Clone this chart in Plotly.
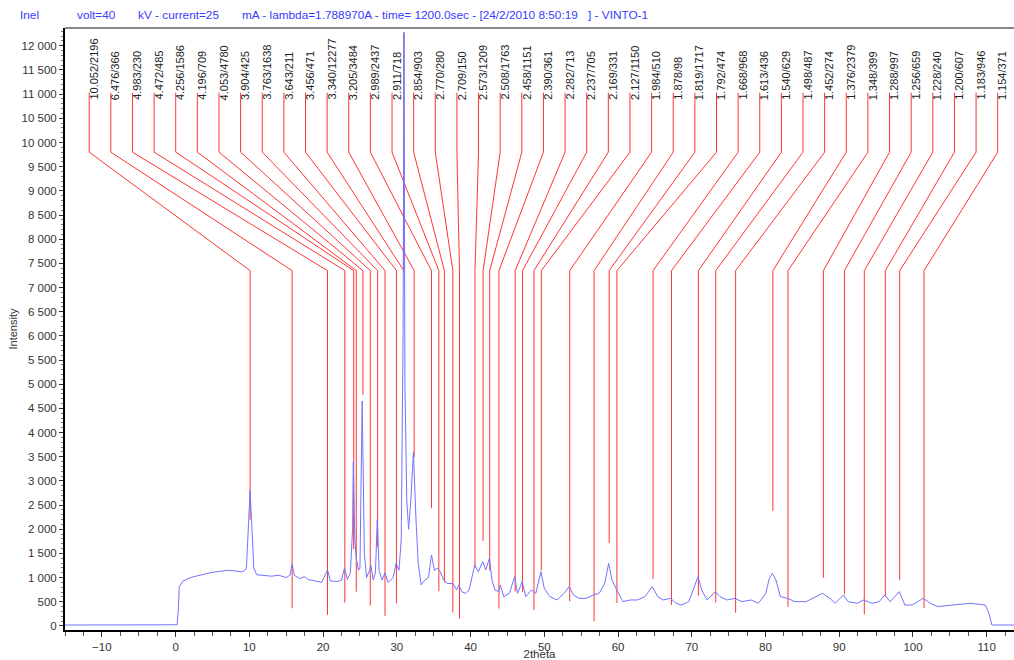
import numpy as np
import plotly.graph_objects as go

# diffractogram: 2theta (deg) and counts
two_theta = [-15, 0.2, 0.35, 0.5, 1.0, 2.0, 3.0, 4.0, 5.0, 6.0, 7.0, 8.0, 9.0, 9.6, 9.9, 10.1,
             10.3, 10.6, 11.0, 12.0, 13.0, 14.0, 15.0, 15.5, 15.8, 16.1, 16.8, 17.5, 18.0, 19.0,
             19.8, 20.6, 21.0, 22.0, 22.5, 22.9, 23.3, 23.7, 24.0, 24.1, 24.3, 24.5, 24.8, 25.0,
             25.3, 25.6, 25.9, 26.3, 26.5, 26.8, 27.1, 27.35, 27.6, 28.0, 28.4, 28.8, 29.5, 29.9,
             30.3, 30.6, 30.85, 30.97, 31.1, 31.35, 31.6, 31.9, 32.25, 32.6, 32.9, 33.3, 33.8,
             34.3, 34.7, 35.1, 35.5, 35.9, 36.35, 36.84, 37.6, 38.1, 38.4, 38.8, 39.3, 39.8,
             40.57, 41.05, 41.65, 42.06, 42.55, 42.9, 43.3, 43.8, 44.04, 44.5, 45.27, 45.98,
             46.37, 47.0, 47.5, 48.25, 48.85, 49.55, 50.0, 50.74, 51.73, 52.7, 53.37, 53.97,
             54.71, 55.7, 56.65, 57.44, 58.19, 58.73, 59.17, 59.83, 60.67, 61.66, 62.66, 63.65,
             64.64, 65.39, 66.13, 67.12, 67.87, 68.61, 69.6, 70.35, 70.85, 71.34, 72.09, 73.19,
             73.83, 74.81, 75.86, 76.8, 78.04, 79.04, 80.03, 80.52, 80.93, 81.42, 82.02, 82.97,
             84.0, 85.49, 86.48, 87.73, 88.72, 89.46, 90.56, 91.2, 92.44, 93.29, 94.45, 95.42,
             96.16, 96.91, 98.15, 98.9, 99.89, 101.38, 102.37, 103.36, 105.35, 107.83, 109.8,
             110.3, 110.7, 114]
intensity = [20, 25, 300, 820, 930, 1000, 1040, 1080, 1110, 1130, 1150, 1140, 1120, 1180, 2000, 2800,
             2200, 1200, 1060, 1040, 1030, 1050, 1000, 1050, 1280, 1050, 980, 1020, 960, 930,
             900, 1160, 930, 920, 950, 1200, 960, 1100, 2000, 3400, 1800, 1400, 1150, 1200,
             4650, 1500, 1000, 1150, 1250, 950, 1100, 2200, 1150, 950, 1100, 900, 1000, 1300,
             1150, 1800, 6000, 12277, 5000, 2600, 2000, 2600, 3600, 2200, 1300, 850, 950,
             1000, 1470, 1150, 1200, 1120, 950, 880, 880, 745, 850, 710, 676, 745,
             1262, 1123, 1330, 1158, 1400, 950, 745, 710, 848, 607, 676, 1020,
             676, 915, 607, 745, 676, 1123, 780, 607, 538, 676, 814, 641,
             572, 572, 641, 676, 880, 1296, 950, 745, 503, 538, 538, 607,
             814, 607, 538, 572, 469, 434, 503, 814, 1020, 745, 538, 710,
             607, 538, 572, 503, 538, 469, 676, 985, 1089, 950, 607, 572,
             503, 503, 572, 676, 572, 469, 641, 503, 469, 538, 469, 503,
             641, 503, 710, 434, 434, 572, 469, 400, 434, 469, 434,
             262, 20, 20]

# peak list: d-spacing / intensity labels and 2theta of each stick
peak_d = ['10.052', '6.476', '4.983', '4.472', '4.256', '4.196', '4.053', '3.904', '3.763',
          '3.643', '3.456', '3.340', '3.205', '2.989', '2.911', '2.854', '2.770', '2.709',
          '2.573', '2.508', '2.458', '2.390', '2.282', '2.237', '2.169', '2.127', '1.984',
          '1.878', '1.819', '1.792', '1.668', '1.613', '1.540', '1.498', '1.452', '1.376',
          '1.348', '1.288', '1.256', '1.228', '1.200', '1.183', '1.154']
peak_i = [2196, 366, 230, 485, 1586, 709, 4780, 425, 1638, 211, 471, 12277, 3484, 2437, 718,
          903, 280, 150, 1209, 1763, 1151, 361, 713, 705, 331, 1150, 510, 98, 1717, 474, 968,
          436, 629, 487, 274, 2379, 399, 997, 659, 240, 607, 946, 371]
peak_2theta = [10.1, 15.8, 20.6, 22.95, 24.15, 24.5, 25.4, 26.4, 27.4, 28.4, 29.95, 30.95,
               32.35, 34.7, 35.7, 36.45, 37.6, 38.5, 40.6, 41.7, 42.6, 43.85, 46.05, 47.05,
               48.6, 49.6, 53.45, 56.75, 58.8, 59.85, 64.75, 67.25, 70.9, 73.25, 75.95, 81.0,
               83.05, 87.85, 90.7, 93.4, 96.25, 98.2, 101.5]

FONT = "Liberation Sans, Arial, sans-serif"

fig = go.Figure()

# label slots spread evenly along the top
slots = np.linspace(-11.72, 111.49, len(peak_d))
lx, ly = [], []
for s, p, i in zip(slots, peak_2theta, peak_i):
    lx += [s, s, p, p, None]
    ly += [11030, 9800, 7350, i, None]

fig.add_trace(go.Scatter(x=lx, y=ly, mode='lines', line=dict(color='rgba(255,0,0,0.8)', width=1),
                         hoverinfo='skip', showlegend=False))
fig.add_trace(go.Scatter(x=two_theta, y=intensity, mode='lines',
                         line=dict(color='rgb(115,115,255)', width=1), showlegend=False))

for s, d, i in zip(slots, peak_d, peak_i):
    fig.add_annotation(x=s, y=10860, text=f"{d}/{i}", textangle=-90, showarrow=False,
                       xanchor='center', yanchor='bottom', xshift=5,
                       font=dict(family=FONT, size=11, color='#222'), borderpad=0)

# header line
header = [(18, 'Inel'), (75, 'volt=40'), (136, 'kV - current=25'),
          (240, 'mA - lambda=1.788970A - time= 1200.0sec - [24/2/2010 8:50:19'),
          (586, '] - VINTO-1')]
for px, t in header:
    fig.add_annotation(x=(px - 65) / 949, y=1, xref='paper', yref='paper', yshift=13,
                       text=t, showarrow=False, xanchor='left', yanchor='middle',
                       font=dict(family=FONT, size=11.8, color='#3a3aff'))

fig.add_shape(type='line', xref='paper', yref='paper', x0=0, x1=1, y0=1, y1=1,
              line=dict(color='#888', width=2))

fig.update_layout(
    width=1014, height=660,
    margin=dict(l=65, r=0, t=28, b=30, autoexpand=False),
    plot_bgcolor='white', paper_bgcolor='white',
    separators='. ',
    font=dict(family=FONT, size=11.5, color='#333'),
    xaxis=dict(range=[-15, 113.7], showgrid=False, zeroline=False, showline=True,
               linecolor='black', linewidth=2, ticks='outside', ticklen=5, tickcolor='#333',
               tick0=0, dtick=10, minor=dict(ticks='outside', dtick=2.5, ticklen=4, tickcolor='#555'),
               title=dict(text='2theta', standoff=3, font=dict(size=11.5, color='#333'))),
    yaxis=dict(range=[-83, 12368], showgrid=False, zeroline=False, showline=True,
               linecolor='black', linewidth=2, ticks='outside', ticklen=4, tickcolor='#333',
               tick0=0, dtick=500, tickformat=',d',
               minor=dict(ticks='outside', dtick=100, ticklen=2, tickcolor='#777'),
               title=dict(text='Intensity', standoff=2, font=dict(size=11, color='#333'))),
)

# page body has a default 8px margin; drop it so the figure sits at the corner
fig.write_html("out.html", config={'displayModeBar': False},
               post_script="document.body.style.margin='0';")
